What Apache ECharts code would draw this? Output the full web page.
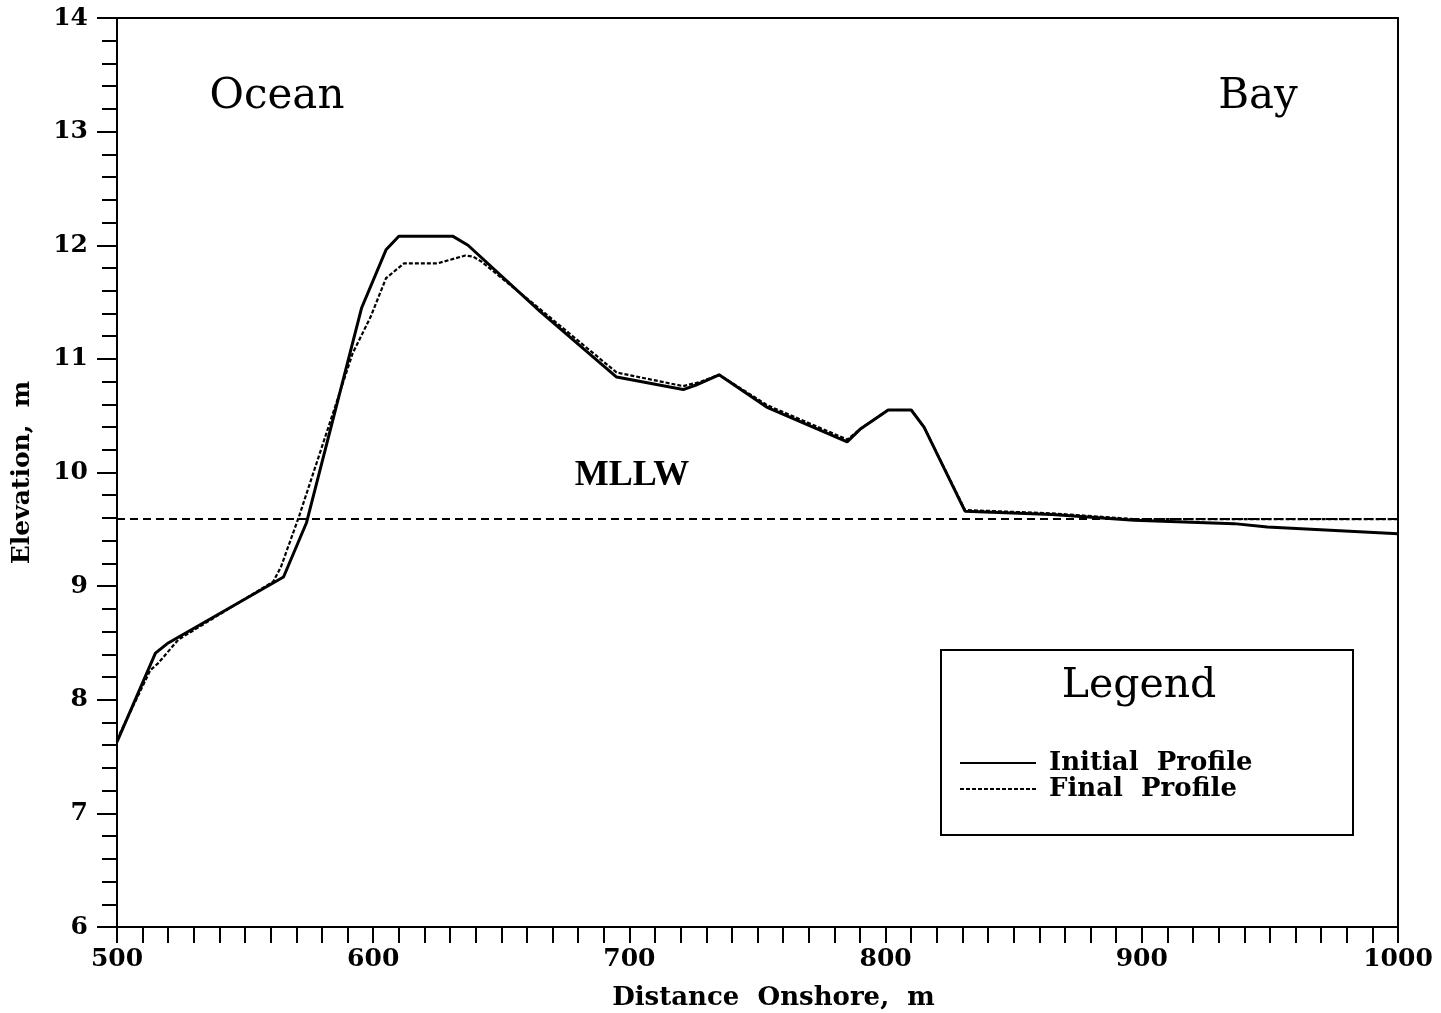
<!DOCTYPE html>
<html>
<head>
<meta charset="utf-8">
<script src="https://cdn.jsdelivr.net/npm/echarts@6/dist/echarts.min.js"></script>
<style>
html,body{margin:0;padding:0;background:#fff;}
#chart{width:1441px;height:1013px;}
</style>
</head>
<body>
<div id="chart"></div>
<script>
// Initial profile (distance m, elevation m)
var initialX = [500, 515, 520, 565, 574, 595.5, 605, 610, 631, 637, 665, 695, 721, 726, 735, 754, 785, 790, 801, 810, 815, 831, 865, 897, 936, 949, 1000];
var initialY = [7.63, 8.41, 8.50, 9.08, 9.56, 11.45, 11.96, 12.08, 12.08, 12.00, 11.42, 10.84, 10.73, 10.77, 10.86, 10.57, 10.27, 10.38, 10.55, 10.55, 10.40, 9.66, 9.63, 9.58, 9.55, 9.52, 9.46];
// Final profile
var finalX = [500, 513, 516, 524, 561, 564, 571, 592, 599, 605, 612, 625, 636, 639, 642, 665, 695, 721, 728, 735, 754, 785, 790, 801, 810, 815, 831, 865, 897, 1000];
var finalY = [7.65, 8.26, 8.32, 8.53, 9.04, 9.17, 9.61, 11.05, 11.37, 11.71, 11.84, 11.84, 11.91, 11.90, 11.86, 11.44, 10.88, 10.76, 10.80, 10.86, 10.59, 10.29, 10.38, 10.55, 10.55, 10.40, 9.67, 9.64, 9.59, 9.59];
var mllw = 9.59;
var seriesNames = ['Initial  Profile', 'Final  Profile'];
var annotations = [
  {text: 'Ocean', x: 277, y: 97},
  {text: 'Bay', x: 1258, y: 97}
];

function pairs(xs, ys){ return xs.map(function(v,i){ return [v, ys[i]]; }); }

var FONT = 'DejaVu Serif';
var chart = echarts.init(document.getElementById('chart'), null, {renderer:'canvas'});
var option = {
  backgroundColor: '#fff',
  animation: false,
  grid: {left: 117, right: 43, top: 18, bottom: 86, containLabel: false, outerBoundsMode: 'none', show: true, borderColor: '#000', borderWidth: 2, backgroundColor: 'transparent'},
  xAxis: {
    type: 'value', min: 500, max: 1000, interval: 100,
    name: 'Distance  Onshore,  m', nameLocation: 'middle', nameGap: 58,
    nameTextStyle: {fontFamily: FONT, fontWeight: 'bold', fontSize: 26, color: '#000', padding: [0, 0, 0, 32]},
    axisLine: {show: true, lineStyle: {color: '#000', width: 2}},
    axisTick: {show: true, inside: false, length: 16, lineStyle: {color: '#000', width: 2}},
    minorTick: {show: true, splitNumber: 10, length: 16, lineStyle: {color: '#000', width: 2}},
    axisLabel: {fontFamily: FONT, fontWeight: 'bold', fontSize: 25, color: '#000', margin: 20, formatter: function(v){ return String(v); }},
    splitLine: {show: false}
  },
  yAxis: {
    type: 'value', min: 6, max: 14, interval: 1,
    name: 'Elevation,  m', nameLocation: 'middle', nameGap: 82,
    nameTextStyle: {fontFamily: FONT, fontWeight: 'bold', fontSize: 25, color: '#000'},
    axisLine: {show: true, lineStyle: {color: '#000', width: 2}},
    axisTick: {show: true, inside: false, length: 20, lineStyle: {color: '#000', width: 2}},
    minorTick: {show: true, splitNumber: 5, length: 15, lineStyle: {color: '#000', width: 2}},
    axisLabel: {fontFamily: FONT, fontWeight: 'bold', fontSize: 25, color: '#000', margin: 29},
    splitLine: {show: false}
  },
  legend: {
    data: seriesNames, orient: 'vertical', left: 954, top: 745,
    itemWidth: 76, itemHeight: 14, itemGap: 0,
    itemStyle: {opacity: 0},
    textStyle: {fontFamily: FONT, fontWeight: 'bold', fontSize: 26, color: '#000', lineHeight: 26, padding: [0, 0, 0, 8]},
    selectedMode: false
  },
  series: [
    {
      name: seriesNames[0], type: 'line', data: pairs(initialX, initialY),
      symbol: 'none', lineStyle: {color: '#000', width: 3, type: 'solid'}, itemStyle: {color: '#000'},
      markLine: {
        silent: true, symbol: ['none','none'],
        label: {show: false},
        lineStyle: {color: '#000', width: 2, type: [8, 5]},
        data: [{yAxis: mllw}]
      }
    },
    {
      name: seriesNames[1], type: 'line', data: pairs(finalX, finalY),
      symbol: 'none', lineStyle: {color: '#000', width: 2.2, type: [4, 2]}, itemStyle: {color: '#000'}
    }
  ],
  graphic: [
    {type: 'rect', shape: {x: 941, y: 650, width: 412, height: 185}, style: {fill: 'transparent', stroke: '#000', lineWidth: 2}, z: 100},
    {type: 'text', x: 1139, y: 686, style: {text: 'Legend', font: '41px "DejaVu Serif"', fill: '#000', textAlign: 'center', textVerticalAlign: 'middle'}, z: 100},
    {type: 'text', x: 632, y: 476, style: {text: 'MLLW', font: 'bold 36px "Liberation Serif"', fill: '#000', textAlign: 'center', textVerticalAlign: 'middle'}, z: 100}
  ].concat(annotations.map(function(a){
    return {type: 'text', x: a.x, y: a.y, style: {text: a.text, font: '42px "DejaVu Serif"', fill: '#000', textAlign: 'center', textVerticalAlign: 'middle'}, z: 100};
  }))
};
chart.setOption(option);
</script>
</body>
</html>
